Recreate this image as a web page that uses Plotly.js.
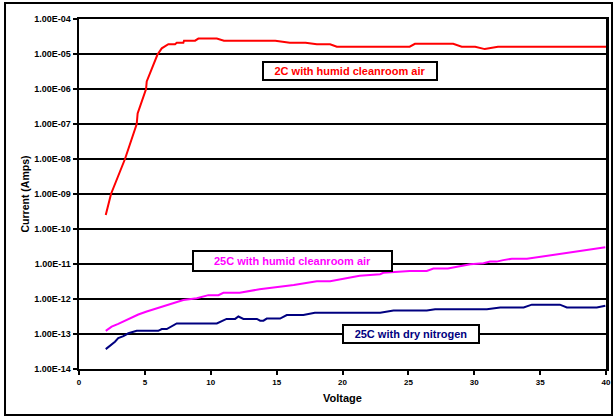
<!DOCTYPE html>
<html>
<head>
<meta charset="utf-8">
<script src="https://cdn.plot.ly/plotly-3.0.1.min.js"></script>
<style>html,body{margin:0;padding:0;background:#fff;}#chart{width:615px;height:419px;}</style>
</head>
<body>
<div id="chart"></div>
<script>
// 2C with humid cleanroom air
const redV = [2.03, 2.43, 3.49, 4.38, 4.45, 5.09, 5.14, 5.9, 5.95, 6.28, 6.45, 6.78, 7.29, 7.42, 7.92, 7.97, 8.81, 9.06, 10.46, 11.0, 14.9, 16.0, 17.2, 18.05, 19.06, 19.57, 25.1, 25.5, 28.4, 29.05, 30.07, 30.8, 31.8, 40];
const redI = [2.5e-10, 1.0e-9, 1.0e-8, 1.0e-7, 2.0e-7, 1.0e-6, 1.65e-6, 8.3e-6, 9.5e-6, 1.45e-5, 1.6e-5, 1.9e-5, 1.9e-5, 2.1e-5, 2.1e-5, 2.4e-5, 2.4e-5, 2.75e-5, 2.75e-5, 2.4e-5, 2.4e-5, 2.1e-5, 2.1e-5, 1.9e-5, 1.9e-5, 1.62e-5, 1.62e-5, 1.95e-5, 1.95e-5, 1.62e-5, 1.62e-5, 1.38e-5, 1.62e-5, 1.62e-5];

// 25C with humid cleanroom air
const magV = [2.03, 2.48, 2.98, 3.49, 4.0, 4.5, 5.14, 5.9, 6.53, 7.16, 7.92, 8.94, 9.82, 10.58, 10.96, 12.2, 13.7, 16.3, 18.05, 19.06, 21.3, 22.86, 23.1, 25.1, 26.4, 26.9, 28.0, 29.7, 30.7, 31.2, 31.7, 32.2, 32.85, 34.0, 36.8, 39.95];
const magI = [1.23e-13, 1.62e-13, 1.95e-13, 2.4e-13, 2.8e-13, 3.6e-13, 4.4e-13, 5.4e-13, 6.3e-13, 7.6e-13, 9.3e-13, 1.05e-12, 1.29e-12, 1.29e-12, 1.51e-12, 1.51e-12, 1.9e-12, 2.5e-12, 3.2e-12, 3.2e-12, 4.6e-12, 5.1e-12, 5.6e-12, 6.3e-12, 6.3e-12, 7.4e-12, 7.4e-12, 9.8e-12, 1.05e-11, 1.17e-11, 1.17e-11, 1.29e-11, 1.41e-11, 1.41e-11, 2.04e-11, 3.0e-11];

// 25C with dry nitrogen
const navV = [2.03, 2.3, 2.73, 2.98, 3.37, 3.75, 4.07, 4.38, 6.02, 6.28, 6.66, 7.04, 7.42, 10.46, 10.7, 11.2, 11.85, 12.1, 12.48, 13.5, 13.75, 14.0, 14.25, 15.26, 15.77, 17.03, 17.9, 22.86, 23.87, 26.4, 27.03, 30.96, 31.97, 33.75, 34.37, 36.5, 37.03, 39.3, 39.95];
const navI = [3.7e-14, 4.4e-14, 6.0e-14, 7.6e-14, 8.7e-14, 1.05e-13, 1.15e-13, 1.23e-13, 1.23e-13, 1.38e-13, 1.38e-13, 1.62e-13, 2.0e-13, 2.0e-13, 2.24e-13, 2.7e-13, 2.7e-13, 3.16e-13, 2.7e-13, 2.7e-13, 2.4e-13, 2.4e-13, 2.75e-13, 2.75e-13, 3.47e-13, 3.47e-13, 4.07e-13, 4.07e-13, 4.7e-13, 4.7e-13, 5.1e-13, 5.1e-13, 5.75e-13, 5.75e-13, 6.9e-13, 6.9e-13, 5.75e-13, 5.75e-13, 6.45e-13];

const yTickVals = [1e-14, 1e-13, 1e-12, 1e-11, 1e-10, 1e-9, 1e-8, 1e-7, 1e-6, 1e-5, 1e-4];
const yTickText = ["1.00E-14", "1.00E-13", "1.00E-12", "1.00E-11", "1.00E-10", "1.00E-09", "1.00E-08", "1.00E-07", "1.00E-06", "1.00E-05", "1.00E-04"];
const xTickVals = [0, 5, 10, 15, 20, 25, 30, 35, 40];

const seriesNames = ["2C with humid cleanroom air", "25C with humid cleanroom air", "25C with dry nitrogen"];
const seriesColors = ["#ff0000", "#ff00ff", "#000080"];

const font = "Liberation Sans, Arial, sans-serif";

const traces = [
  {x: redV, y: redI, name: seriesNames[0], mode: "lines", line: {color: seriesColors[0], width: 2}},
  {x: magV, y: magI, name: seriesNames[1], mode: "lines", line: {color: seriesColors[1], width: 2}},
  {x: navV, y: navI, name: seriesNames[2], mode: "lines", line: {color: seriesColors[2], width: 2}}
];

const layout = {
  width: 615, height: 419,
  margin: {l: 79, r: 9, t: 19, b: 50},
  paper_bgcolor: "#ffffff", plot_bgcolor: "#ffffff",
  showlegend: false,
  font: {family: font, color: "#000"},
  xaxis: {
    range: [0, 40], tickvals: xTickVals, ticks: "outside", ticklen: 4, tickwidth: 2, tickcolor: "#000",
    showgrid: false, zeroline: false, showline: true, linecolor: "#000", linewidth: 2, mirror: true,
    tickfont: {size: 8, family: font, weight: "bold"},
    title: {text: "Voltage", font: {size: 11, family: font, weight: "bold"}, standoff: 9}
  },
  yaxis: {
    type: "log", range: [-14, -4], tickvals: yTickVals, ticktext: yTickText,
    ticks: "outside", ticklen: 4, tickwidth: 2, tickcolor: "#000",
    showgrid: true, gridcolor: "#000", gridwidth: 2, zeroline: false,
    showline: true, linecolor: "#000", linewidth: 2.5, mirror: true,
    tickfont: {size: 9, family: font, weight: "bold"},
    title: {text: "Current (Amps)", font: {size: 10.5, family: font, weight: "bold"}, standoff: 3}
  },
  annotations: [
    {x: 20.57, y: -5.49, xref: "x", yref: "y", text: seriesNames[0], showarrow: false,
     font: {size: 11, family: font, color: seriesColors[0], weight: "bold"},
     bgcolor: "#fff", bordercolor: "#000", borderwidth: 2, borderpad: 1, width: 170, height: 14},
    {x: 16.2, y: -10.91, xref: "x", yref: "y", text: seriesNames[1], showarrow: false,
     font: {size: 11, family: font, color: seriesColors[1], weight: "bold"},
     bgcolor: "#fff", bordercolor: "#000", borderwidth: 2, borderpad: 1, width: 195, height: 16},
    {x: 25.2, y: -13.0, xref: "x", yref: "y", text: seriesNames[2], showarrow: false,
     font: {size: 11, family: font, color: seriesColors[2], weight: "bold"},
     bgcolor: "#fff", bordercolor: "#000", borderwidth: 2, borderpad: 1, width: 132, height: 14}
  ],
  shapes: [
    {type: "rect", xref: "paper", yref: "paper", x0: -0.1404, x1: 1.0114, y0: -0.1314, y1: 1.0457,
     line: {color: "#000", width: 2}, fillcolor: "rgba(0,0,0,0)", layer: "below"}
  ]
};

Plotly.newPlot("chart", traces, layout, {staticPlot: true, displayModeBar: false});
</script>
</body>
</html>
